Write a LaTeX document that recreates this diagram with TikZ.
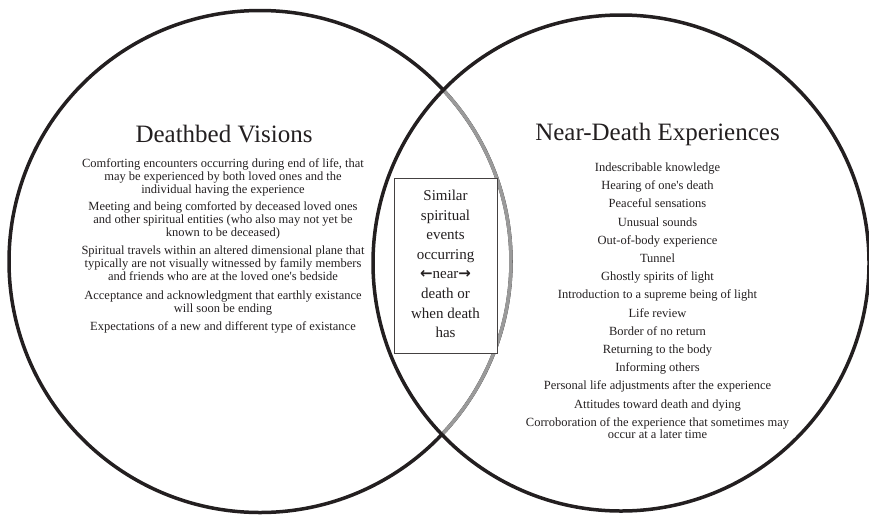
\documentclass[tikz,border=0pt]{standalone}
\usepackage{fontspec}
\setmainfont{Liberation Serif}
\newfontfamily\arrowfont{DejaVu Sans}
\definecolor{inkblack}{HTML}{231F20}
\definecolor{ringgray}{HTML}{9A9A9A}
\tikzset{
  ring/.style={draw=inkblack, line width=3.5pt},
  title/.style={anchor=base, inner sep=0pt, text=inkblack, font=\fontsize{25}{30}\selectfont},
  dbvitem/.style={anchor=base, align=center, inner sep=0pt, text=inkblack, font=\fontsize{12.5}{13}\selectfont},
  ndeitem/.style={anchor=base, align=center, inner sep=0pt, text=inkblack, font=\fontsize{12.5}{12.5}\selectfont},
}
\newcommand{\heavyarrow}[1]{{\arrowfont\bfseries #1}}

\begin{document}
\begin{tikzpicture}[x=1pt, y=-1pt]
  \useasboundingbox (0,0) rectangle (869,517);
  % Circle centres
  \coordinate (dbvc) at (260,261.5);
  \coordinate (ndec) at (621,263);
  % Left circle, its part inside the right one in gray
  \draw[ring] (dbvc) circle[radius=251pt];
  \draw[ring, draw=ringgray] (dbvc) ++(-43.3:251pt) arc[start angle=-43.3, end angle=43.3, radius=251pt];
  % Right circle
  \draw[ring] (ndec) circle[radius=248pt];
  % Overlap box
  \node[draw=inkblack!85, line width=0.8pt, fill=white, minimum width=103pt, minimum height=175pt,
        inner sep=0pt, align=center, text=inkblack, font=\fontsize{15}{19.6}\selectfont]
    (similar) at (445.5,265.5)
    {};
  \node[inner sep=0pt, align=center, text=inkblack, font=\fontsize{15}{19.6}\selectfont]
    (similartext) at (445.5,264)
    {Similar\\spiritual\\events\\occurring\\\heavyarrow{←}near\heavyarrow{→}\\death or\\when death\\has};
  % Titles
  \node[title] (dbvtitle) at (224,142) {Deathbed Visions};
  \node[title] (ndetitle) at (657.5,140) {Near-Death Experiences};
  % Deathbed visions (y is the baseline of the last line)
  \foreach \y/\t [count=\i] in {
    193/{Comforting encounters occurring during end of life, that\\may be experienced by both loved ones and the\\individual having the experience},
    236.5/{Meeting and being comforted by deceased loved ones\\and other spiritual entities (who also may not yet be\\known to be deceased)},
    280.5/{Spiritual travels within an altered dimensional plane that\\typically are not visually witnessed by family members\\and friends who are at the loved one\textquotesingle s bedside},
    312.5/{Acceptance and acknowledgment that earthly existance\\will soon be ending},
    330.5/{Expectations of a new and different type of existance}} {
    \node[dbvitem] (dbv\i) at (223,\y) {\t};
  }
  % Near-death experiences
  \foreach \t [count=\i] in {
    Indescribable knowledge, Hearing of one\textquotesingle s death, Peaceful sensations,
    Unusual sounds, Out-of-body experience, Tunnel, Ghostly spirits of light,
    Introduction to a supreme being of light, Life review, Border of no return,
    Returning to the body, Informing others, Personal life adjustments after the experience,
    Attitudes toward death and dying,
    {Corroboration of the experience that sometimes may\\occur at a later time}} {
    \node[ndeitem] (nde\i) at (657.5,{171.5+(\i-1)*18.2+(\i==15)*12.5}) {\t};
  }
\end{tikzpicture}
\end{document}
